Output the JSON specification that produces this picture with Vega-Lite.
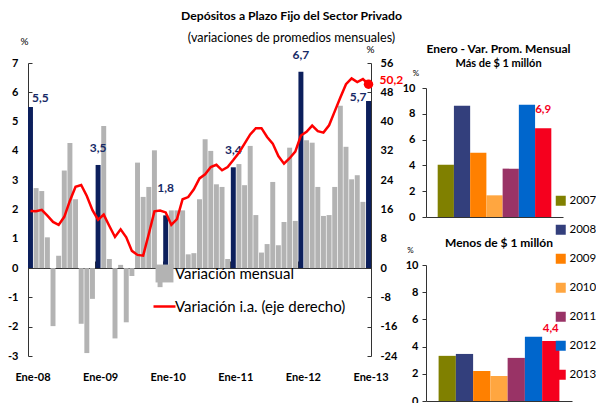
{
  "$schema": "https://vega.github.io/schema/vega-lite/v6.json",
  "background": "white",
  "padding": {"left": 7, "top": 10, "right": 0, "bottom": 0},
  "config": {
    "view": {"stroke": null},
    "font": "Lato",
    "locale": {"number": {"decimal": ",", "thousands": ".", "grouping": [3], "currency": ["$", ""], "minus": "-"}},
    "axis": {"labelFont": "Lato", "labelFontWeight": "bold", "labelColor": "#000", "labelFontSize": 11, "domainColor": "#333", "tickColor": "#333", "grid": false, "titleFont": "Lato", "titleFontWeight": "normal", "titleColor": "#000"},
    "title": {"font": "Lato", "color": "#000"}
  },
  "datasets": {
    "mensual": [
      {"mes": "2008-01", "v": 5.5, "tipo": "Enero"},
      {"mes": "2008-02", "v": 2.73, "tipo": "Variación mensual"},
      {"mes": "2008-03", "v": 2.63, "tipo": "Variación mensual"},
      {"mes": "2008-04", "v": 1.05, "tipo": "Variación mensual"},
      {"mes": "2008-05", "v": -1.98, "tipo": "Variación mensual"},
      {"mes": "2008-06", "v": 0.42, "tipo": "Variación mensual"},
      {"mes": "2008-07", "v": 3.33, "tipo": "Variación mensual"},
      {"mes": "2008-08", "v": 4.27, "tipo": "Variación mensual"},
      {"mes": "2008-09", "v": 2.35, "tipo": "Variación mensual"},
      {"mes": "2008-10", "v": -1.9, "tipo": "Variación mensual"},
      {"mes": "2008-11", "v": -2.9, "tipo": "Variación mensual"},
      {"mes": "2008-12", "v": -1.05, "tipo": "Variación mensual"},
      {"mes": "2009-01", "v": 3.52, "tipo": "Enero"},
      {"mes": "2009-02", "v": 4.85, "tipo": "Variación mensual"},
      {"mes": "2009-03", "v": 0.31, "tipo": "Variación mensual"},
      {"mes": "2009-04", "v": -2.4, "tipo": "Variación mensual"},
      {"mes": "2009-05", "v": 0.11, "tipo": "Variación mensual"},
      {"mes": "2009-06", "v": -1.85, "tipo": "Variación mensual"},
      {"mes": "2009-07", "v": -0.27, "tipo": "Variación mensual"},
      {"mes": "2009-08", "v": 3.6, "tipo": "Variación mensual"},
      {"mes": "2009-09", "v": 2.43, "tipo": "Variación mensual"},
      {"mes": "2009-10", "v": 2.77, "tipo": "Variación mensual"},
      {"mes": "2009-11", "v": 4.02, "tipo": "Variación mensual"},
      {"mes": "2009-12", "v": -0.65, "tipo": "Variación mensual"},
      {"mes": "2010-01", "v": 1.8, "tipo": "Enero"},
      {"mes": "2010-02", "v": 1.97, "tipo": "Variación mensual"},
      {"mes": "2010-03", "v": 1.97, "tipo": "Variación mensual"},
      {"mes": "2010-04", "v": 1.97, "tipo": "Variación mensual"},
      {"mes": "2010-05", "v": 0.47, "tipo": "Variación mensual"},
      {"mes": "2010-06", "v": 0.51, "tipo": "Variación mensual"},
      {"mes": "2010-07", "v": 2.35, "tipo": "Variación mensual"},
      {"mes": "2010-08", "v": 4.4, "tipo": "Variación mensual"},
      {"mes": "2010-09", "v": 4.0, "tipo": "Variación mensual"},
      {"mes": "2010-10", "v": 2.86, "tipo": "Variación mensual"},
      {"mes": "2010-11", "v": 2.77, "tipo": "Variación mensual"},
      {"mes": "2010-12", "v": 0.31, "tipo": "Variación mensual"},
      {"mes": "2011-01", "v": 3.44, "tipo": "Enero"},
      {"mes": "2011-02", "v": 3.55, "tipo": "Variación mensual"},
      {"mes": "2011-03", "v": 2.83, "tipo": "Variación mensual"},
      {"mes": "2011-04", "v": 4.17, "tipo": "Variación mensual"},
      {"mes": "2011-05", "v": 1.81, "tipo": "Variación mensual"},
      {"mes": "2011-06", "v": 0.53, "tipo": "Variación mensual"},
      {"mes": "2011-07", "v": 0.82, "tipo": "Variación mensual"},
      {"mes": "2011-08", "v": 2.94, "tipo": "Variación mensual"},
      {"mes": "2011-09", "v": 0.78, "tipo": "Variación mensual"},
      {"mes": "2011-10", "v": 1.57, "tipo": "Variación mensual"},
      {"mes": "2011-11", "v": 4.11, "tipo": "Variación mensual"},
      {"mes": "2011-12", "v": 1.61, "tipo": "Variación mensual"},
      {"mes": "2012-01", "v": 6.7, "tipo": "Enero"},
      {"mes": "2012-02", "v": 4.36, "tipo": "Variación mensual"},
      {"mes": "2012-03", "v": 4.28, "tipo": "Variación mensual"},
      {"mes": "2012-04", "v": 2.77, "tipo": "Variación mensual"},
      {"mes": "2012-05", "v": 1.78, "tipo": "Variación mensual"},
      {"mes": "2012-06", "v": 1.81, "tipo": "Variación mensual"},
      {"mes": "2012-07", "v": 2.77, "tipo": "Variación mensual"},
      {"mes": "2012-08", "v": 5.54, "tipo": "Variación mensual"},
      {"mes": "2012-09", "v": 4.14, "tipo": "Variación mensual"},
      {"mes": "2012-10", "v": 3.03, "tipo": "Variación mensual"},
      {"mes": "2012-11", "v": 3.17, "tipo": "Variación mensual"},
      {"mes": "2012-12", "v": 2.26, "tipo": "Variación mensual"},
      {"mes": "2013-01", "v": 5.7, "tipo": "Enero"}
    ],
    "ia": [
      {"mes": "2008-01", "ia": 15.6}, {"mes": "2008-02", "ia": 15.5}, {"mes": "2008-03", "ia": 15.9},
      {"mes": "2008-04", "ia": 14.3}, {"mes": "2008-05", "ia": 12.6}, {"mes": "2008-06", "ia": 11.8},
      {"mes": "2008-07", "ia": 14.0}, {"mes": "2008-08", "ia": 18.4}, {"mes": "2008-09", "ia": 22.2},
      {"mes": "2008-10", "ia": 22.7}, {"mes": "2008-11", "ia": 19.7}, {"mes": "2008-12", "ia": 15.8},
      {"mes": "2009-01", "ia": 13.2}, {"mes": "2009-02", "ia": 14.6}, {"mes": "2009-03", "ia": 11.5},
      {"mes": "2009-04", "ia": 8.5}, {"mes": "2009-05", "ia": 10.6}, {"mes": "2009-06", "ia": 8.4},
      {"mes": "2009-07", "ia": 4.7}, {"mes": "2009-08", "ia": 3.6}, {"mes": "2009-09", "ia": 3.4},
      {"mes": "2009-10", "ia": 9.3}, {"mes": "2009-11", "ia": 15.5}, {"mes": "2009-12", "ia": 15.7},
      {"mes": "2010-01", "ia": 15.2}, {"mes": "2010-02", "ia": 11.8}, {"mes": "2010-03", "ia": 13.4},
      {"mes": "2010-04", "ia": 18.8}, {"mes": "2010-05", "ia": 19.4}, {"mes": "2010-06", "ia": 21.5},
      {"mes": "2010-07", "ia": 24.5}, {"mes": "2010-08", "ia": 25.6}, {"mes": "2010-09", "ia": 27.6},
      {"mes": "2010-10", "ia": 28.2}, {"mes": "2010-11", "ia": 26.7}, {"mes": "2010-12", "ia": 27.6},
      {"mes": "2011-01", "ia": 29.5}, {"mes": "2011-02", "ia": 31.5}, {"mes": "2011-03", "ia": 34.0},
      {"mes": "2011-04", "ia": 36.5}, {"mes": "2011-05", "ia": 38.2}, {"mes": "2011-06", "ia": 38.2},
      {"mes": "2011-07", "ia": 35.8}, {"mes": "2011-08", "ia": 34.0}, {"mes": "2011-09", "ia": 30.6},
      {"mes": "2011-10", "ia": 28.5}, {"mes": "2011-11", "ia": 30.0}, {"mes": "2011-12", "ia": 31.8},
      {"mes": "2012-01", "ia": 36.2}, {"mes": "2012-02", "ia": 37.2}, {"mes": "2012-03", "ia": 38.9},
      {"mes": "2012-04", "ia": 37.4}, {"mes": "2012-05", "ia": 37.0}, {"mes": "2012-06", "ia": 39.0},
      {"mes": "2012-07", "ia": 42.8}, {"mes": "2012-08", "ia": 46.6}, {"mes": "2012-09", "ia": 50.2},
      {"mes": "2012-10", "ia": 51.8}, {"mes": "2012-11", "ia": 50.8}, {"mes": "2012-12", "ia": 51.6},
      {"mes": "2013-01", "ia": 50.2}
    ],
    "enero": [
      {"panel": "mas", "anio": "2007", "v": 4.06},
      {"panel": "mas", "anio": "2008", "v": 8.63},
      {"panel": "mas", "anio": "2009", "v": 4.99},
      {"panel": "mas", "anio": "2010", "v": 1.68},
      {"panel": "mas", "anio": "2011", "v": 3.75},
      {"panel": "mas", "anio": "2012", "v": 8.71},
      {"panel": "mas", "anio": "2013", "v": 6.88},
      {"panel": "menos", "anio": "2007", "v": 3.32},
      {"panel": "menos", "anio": "2008", "v": 3.46},
      {"panel": "menos", "anio": "2009", "v": 2.21},
      {"panel": "menos", "anio": "2010", "v": 1.84},
      {"panel": "menos", "anio": "2011", "v": 3.17},
      {"panel": "menos", "anio": "2012", "v": 4.72},
      {"panel": "menos", "anio": "2013", "v": 4.42}
    ]
  },
  "resolve": {"scale": {"color": "independent"}, "legend": {"color": "independent"}},
  "spacing": -2,
  "hconcat": [
    {
      "width": 343,
      "height": 293,
      "title": {"text": "Depósitos a Plazo Fijo del Sector Privado", "subtitle": "(variaciones de promedios mensuales)", "anchor": "middle", "dx": 92, "fontSize": 12.2, "fontWeight": "bold", "subtitleFontSize": 12.6, "subtitleFont": "Lato", "subtitleColor": "#000", "subtitlePadding": 10, "offset": -9},
      "resolve": {"scale": {"y": "independent"}},
      "layer": [
        {
          "data": {"name": "mensual"},
          "encoding": {
            "x": {"field": "mes", "type": "ordinal", "sort": "ascending", "scale": {"paddingInner": 0.12, "paddingOuter": 0},
              "axis": {"title": null, "offset": -88, "values": ["2008-01", "2009-01", "2010-01", "2011-01", "2012-01", "2013-01"], "labelExpr": "'Ene-' + substring(datum.value, 2, 4)", "labelAngle": 0, "bandPosition": 0, "labelOffset": 2.5, "tickSize": -7, "labelPadding": 110, "labelFontSize": 11, "domainColor": "#333", "labelFlush": false}},
            "y": {"field": "v", "type": "quantitative", "scale": {"domain": [-3, 7], "nice": false, "zero": false},
              "axis": {"orient": "left", "values": [-3, -2, -1, 0, 1, 2, 3, 4, 5, 6, 7], "tickSize": -4, "labelPadding": 14, "title": "%", "titleAngle": 0, "titleX": -4, "titleY": -22, "titleFontSize": 10, "titleAlign": "center", "titleBaseline": "middle"}}
          },
          "layer": [
            {"mark": {"type": "bar"},
             "encoding": {"color": {"field": "tipo", "type": "nominal",
               "scale": {"domain": ["Variación mensual", "Variación i.a. (eje derecho)", "Enero"], "range": ["#b3b3b3", "#ff0000", "#0c1f5c"]},
               "legend": {"orient": "none", "legendX": 129, "legendY": 203, "title": null, "values": ["Variación mensual", "Variación i.a. (eje derecho)"], "labelFontSize": 15, "labelFont": "Lato", "labelColor": "#000", "labelLimit": 0, "rowPadding": 16, "labelOffset": 3, "padding": 0,
                 "encode": {"symbols": {"update": {
                   "shape": {"signal": "datum.value === 'Variación mensual' ? 'square' : 'stroke'"},
                   "size": {"signal": "datum.value === 'Variación mensual' ? 320 : 484"},
                   "fill": {"signal": "datum.value === 'Variación mensual' ? '#b3b3b3' : 'transparent'"},
                   "stroke": {"signal": "datum.value === 'Variación mensual' ? '#b3b3b3' : '#ff0000'"},
                   "strokeWidth": {"signal": "datum.value === 'Variación mensual' ? 0 : 2.5"},
                   "opacity": {"value": 1}}}}}}}},
            {"transform": [{"filter": "datum.mes == '2009-01' || datum.mes == '2011-01' || datum.mes == '2012-01'"}],
             "mark": {"type": "text", "align": "center", "baseline": "bottom", "dy": -10, "fontSize": 12, "fontWeight": "bold", "color": "#172a66"},
             "encoding": {"text": {"field": "v", "type": "quantitative", "format": ".1f"}}},
            {"transform": [{"filter": "datum.mes == '2010-01'"}],
             "mark": {"type": "text", "align": "center", "baseline": "bottom", "dy": -20, "fontSize": 12, "fontWeight": "bold", "color": "#172a66"},
             "encoding": {"text": {"field": "v", "type": "quantitative", "format": ".1f"}}},
            {"transform": [{"filter": "datum.mes == '2008-01'"}],
             "mark": {"type": "text", "align": "left", "baseline": "bottom", "dx": 1.5, "dy": -2, "fontSize": 12, "fontWeight": "bold", "color": "#172a66"},
             "encoding": {"text": {"field": "v", "type": "quantitative", "format": ".1f"}}},
            {"transform": [{"filter": "datum.mes == '2013-01'"}],
             "mark": {"type": "text", "align": "right", "baseline": "bottom", "dx": -2, "dy": 3, "fontSize": 12, "fontWeight": "bold", "color": "#172a66"},
             "encoding": {"text": {"field": "v", "type": "quantitative", "format": ".1f"}}}
          ]
        },
        {
          "data": {"name": "ia"},
          "encoding": {
            "x": {"field": "mes", "type": "ordinal", "sort": "ascending"},
            "y": {"field": "ia", "type": "quantitative", "scale": {"domain": [-24, 56], "nice": false, "zero": false},
              "axis": {"orient": "right", "values": [-24, -16, -8, 0, 8, 16, 24, 32, 40, 48, 56], "tickSize": -4, "labelPadding": 13, "title": "%", "titleAngle": 0, "titleX": -1, "titleY": -14, "titleFontSize": 10, "titleAlign": "center", "titleBaseline": "middle"}}
          },
          "layer": [
            {"mark": {"type": "line", "strokeWidth": 2.5}, "encoding": {"color": {"datum": "Variación i.a. (eje derecho)"}}},
            {"transform": [{"filter": "datum.mes == '2013-01'"}], "mark": {"type": "circle", "size": 90, "color": "#ff0000", "opacity": 1}},
            {"transform": [{"filter": "datum.mes == '2013-01'"}],
             "mark": {"type": "text", "align": "left", "baseline": "middle", "dx": 11, "dy": -4, "fontSize": 12, "fontWeight": "bold", "color": "#ff0000"},
             "encoding": {"text": {"field": "ia", "type": "quantitative", "format": ".1f"}}}
          ]
        }
      ]
    },
    {
      "spacing": 14,
      "resolve": {"scale": {"color": "shared"}, "legend": {"color": "shared"}},
      "vconcat": [
        {
          "width": 137,
          "height": 154,
          "title": {"text": "Enero - Var. Prom. Mensual", "subtitle": "Más de $ 1 millón", "anchor": "middle", "dx": 4, "fontSize": 12, "fontWeight": "bold", "subtitleFontSize": 11, "subtitleFontWeight": "bold", "subtitleFont": "Lato", "subtitleColor": "#000", "subtitlePadding": 2, "offset": -7},
          "data": {"name": "enero"},
          "transform": [{"filter": "datum.panel == 'mas'"}],
          "encoding": {
            "x": {"field": "anio", "type": "nominal", "scale": {"paddingInner": 0, "paddingOuter": 0.72}, "axis": {"title": null, "labels": false, "ticks": false}},
            "y": {"field": "v", "type": "quantitative", "scale": {"domain": [0, 10], "nice": false, "range": [154, 25]},
              "axis": {"values": [0, 2, 4, 6, 8, 10], "tickSize": 4, "labelPadding": 7, "title": "%", "titleAngle": 0, "titleX": -10.5, "titleY": 10.5, "titleFontSize": 8, "titleAlign": "center", "titleBaseline": "middle"}}
          },
          "layer": [
            {"mark": {"type": "bar"},
             "encoding": {"color": {"field": "anio", "type": "nominal",
               "scale": {"domain": ["2007", "2008", "2009", "2010", "2011", "2012", "2013"], "range": ["#808000", "#333f7c", "#ff8000", "#ffa640", "#993366", "#0066cc", "#f5001e"]},
               "legend": {"orient": "none", "legendX": 129, "legendY": 132, "title": null, "symbolType": "square", "symbolSize": 100, "symbolStrokeWidth": 0, "symbolOpacity": 1, "labelFontSize": 11.5, "labelFont": "Lato", "labelColor": "#000", "rowPadding": 16, "labelOffset": 3, "padding": 0}}}},
            {"transform": [{"filter": "datum.anio == '2013'"}],
             "mark": {"type": "text", "align": "center", "baseline": "bottom", "dy": -13, "fontSize": 11.5, "fontWeight": "bold", "color": "#f5001e"},
             "encoding": {"text": {"field": "v", "type": "quantitative", "format": ".1f"}}}
          ]
        },
        {
          "width": 146,
          "height": 136,
          "title": {"text": "Menos de $ 1 millón", "anchor": "middle", "fontSize": 12, "fontWeight": "bold", "offset": -3},
          "data": {"name": "enero"},
          "transform": [{"filter": "datum.panel == 'menos'"}],
          "encoding": {
            "x": {"field": "anio", "type": "nominal", "scale": {"paddingInner": 0, "paddingOuter": 0.73}, "axis": {"title": null, "labels": false, "ticks": false}},
            "y": {"field": "v", "type": "quantitative", "scale": {"domain": [0, 10], "nice": false},
              "axis": {"values": [0, 2, 4, 6, 8, 10], "tickSize": 4, "labelPadding": 4, "title": "%", "titleAngle": 0, "titleX": -16, "titleY": -14.5, "titleFontSize": 8, "titleAlign": "center", "titleBaseline": "middle"}}
          },
          "layer": [
            {"mark": {"type": "bar"},
             "encoding": {"color": {"field": "anio", "type": "nominal",
               "scale": {"domain": ["2007", "2008", "2009", "2010", "2011", "2012", "2013"], "range": ["#808000", "#333f7c", "#ff8000", "#ffa640", "#993366", "#0066cc", "#f5001e"]},
               "legend": {"orient": "none", "legendX": 129, "legendY": 132, "title": null, "symbolType": "square", "symbolSize": 100, "symbolStrokeWidth": 0, "symbolOpacity": 1, "labelFontSize": 11.5, "labelFont": "Lato", "labelColor": "#000", "rowPadding": 16, "labelOffset": 3, "padding": 0}}}},
            {"transform": [{"filter": "datum.anio == '2013'"}],
             "mark": {"type": "text", "align": "center", "baseline": "bottom", "dy": -7, "fontSize": 11.5, "fontWeight": "bold", "color": "#f5001e"},
             "encoding": {"text": {"field": "v", "type": "quantitative", "format": ".1f"}}}
          ]
        }
      ]
    }
  ]
}
